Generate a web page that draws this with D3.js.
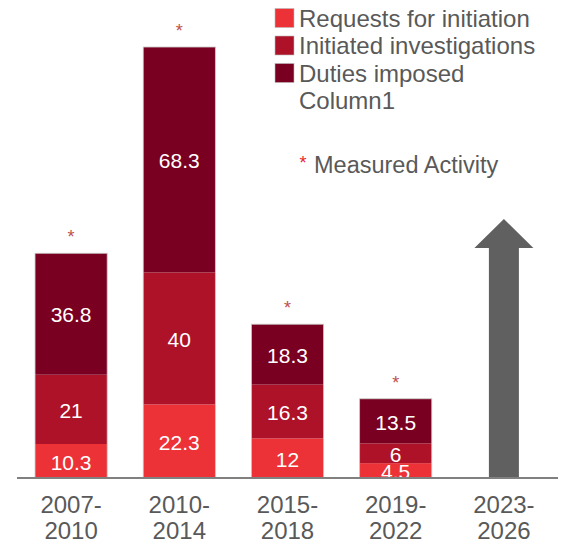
<!DOCTYPE html>
<html>
<head>
<meta charset="utf-8">
<script src="https://cdn.jsdelivr.net/npm/d3@7"></script>
<style>
  body { margin: 0; background: #fff; }
  svg { font-family: "Liberation Sans", Arial, sans-serif; }
</style>
</head>
<body>
<div id="chart"></div>
<script>
// data
const periods = [["2007-", "2010"], ["2010-", "2014"], ["2015-", "2018"], ["2019-", "2022"], ["2023-", "2026"]];
const seriesNames = ["Requests for initiation", "Initiated investigations", "Duties imposed"];
const requests = [10.3, 22.3, 12, 4.5, null];
const initiated = [21, 40, 16.3, 6, null];
const duties = [36.8, 68.3, 18.3, 13.5, null];
const arrowValue = [null, null, null, null, 78.5]; // the grey "forecast" arrow
const colors = ["#ec3237", "#ae1228", "#7a0021"];
const extraLegend = "Column1";
const noteText = "Measured Activity";

const width = 561, height = 544;

const svg = d3.select("#chart").append("svg").attr("width", width).attr("height", height);

const x = d3.scaleBand().domain(d3.range(periods.length)).range([17, 558])
    .paddingInner(1 / 3).paddingOuter(1 / 6);
const y = d3.scaleLinear().domain([0, 140]).range([478, 16]);

function label(g, tx, ty, str, size, fill, anchor) {
    return g.append("text")
        .attr("x", tx).attr("y", ty)
        .attr("text-anchor", anchor || "middle")
        .attr("dominant-baseline", "central")
        .attr("font-size", size + "px")
        .attr("fill", fill)
        .text(str);
}

// stacked bars
const rows = periods.map((p, i) => ({ i, v: [requests[i], initiated[i], duties[i]] }))
    .filter(d => d.v[0] != null);

rows.forEach(d => {
    let base = 0;
    d.v.forEach((v, k) => {
        svg.append("rect")
            .attr("x", x(d.i)).attr("width", x.bandwidth())
            .attr("y", y(base + v)).attr("height", y(base) - y(base + v))
            .attr("fill", colors[k]);
        label(svg, x(d.i) + x.bandwidth() / 2, y(base + v / 2) + 1, v, 21, "#fff");
        base += v;
    });
    // faint outline round the stack
    svg.append("rect")
        .attr("x", x(d.i)).attr("width", x.bandwidth())
        .attr("y", y(base)).attr("height", y(0) - y(base))
        .attr("fill", "none").attr("stroke", "#c8c8c8").attr("stroke-width", 0.8);
    // asterisk
    label(svg, x(d.i) + x.bandwidth() / 2, y(base) - 16, "*", 18, "#c0504d");
});

// arrow
arrowValue.forEach((v, i) => {
    if (v == null) return;
    const cx = x(i) + x.bandwidth() / 2;
    const shaft = 15, head = 29.5, headH = 29;
    const tip = y(v), hb = tip + headH;
    const pts = [[cx - shaft, y(0)], [cx - shaft, hb], [cx - head, hb], [cx, tip],
                 [cx + head, hb], [cx + shaft, hb], [cx + shaft, y(0)]];
    svg.append("path").attr("d", d3.line()(pts) + "Z").attr("fill", "#606060");
});

// axis line
svg.append("line").attr("x1", 17).attr("x2", 558).attr("y1", y(0)).attr("y2", y(0))
    .attr("stroke", "#808080").attr("stroke-width", 2);

// category labels
periods.forEach((p, i) => {
    const cx = x(i) + x.bandwidth() / 2;
    label(svg, cx, 504, p[0], 24, "#595959");
    label(svg, cx, 530, p[1], 24, "#595959");
});

// legend
const lg = svg.append("g");
seriesNames.forEach((n, k) => {
    const cy = 18 + k * 27.5;
    lg.append("rect").attr("x", 275).attr("y", cy - 9.5).attr("width", 19).attr("height", 19)
        .attr("fill", colors[k]).attr("stroke", "#bbb").attr("stroke-width", 0.6);
    label(lg, 299, cy, n, 24, "#595959", "start");
});
label(lg, 299, 18 + 3 * 27.5, extraLegend, 24, "#595959", "start");
label(lg, 303, 163, "*", 18, "#e8242c", "middle");
label(lg, 314, 165, noteText, 23.5, "#595959", "start");
</script>
</body>
</html>
